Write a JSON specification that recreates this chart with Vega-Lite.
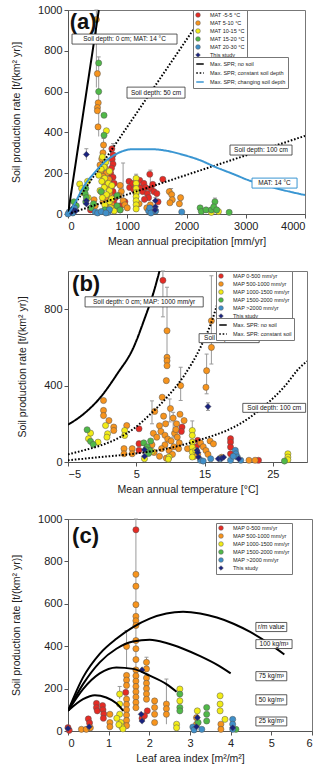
{
"$schema": "https://vega.github.io/schema/vega-lite/v6.json",
"autosize": {"type": "pad"},
"padding": {"left": 11, "top": 3, "right": 0, "bottom": 0},
"background": "white",
"spacing": 57,
"bounds": "flush",
"resolve": {"scale": {"color": "independent", "shape": "independent", "strokeDash": "independent", "x": "independent", "y": "independent"}, "legend": {"color": "independent", "shape": "independent", "strokeDash": "independent"}},
"config": {
  "font": "Liberation Sans",
  "view": {"stroke": "#777", "strokeWidth": 1},
  "axis": {"labelFont": "Liberation Sans", "labelFontSize": 11, "labelColor": "#222", "titleFont": "Liberation Sans", "titleFontSize": 10.5, "titleFontWeight": "normal", "titleColor": "#222", "domainColor": "#555", "tickColor": "#555", "tickSize": 4, "grid": false, "labelPadding": 2, "labelOverlap": false},
  "axisY": {"titlePadding": 16},
  "axisX": {"titlePadding": 5},
  "legend": {"padding": 2, "strokeColor": "#777", "fillColor": "white", "labelFontSize": 5.5, "labelFont": "Liberation Sans", "labelColor": "#222", "rowPadding": 0, "title": null}
},
"datasets": {
"pa": [
{"x":740,"y":320,"c":"MAT -5-5 °C"},{"x":760,"y":290,"c":"MAT -5-5 °C"},{"x":745,"y":268,"c":"MAT -5-5 °C"},{"x":760,"y":245,"c":"MAT -5-5 °C"},{"x":735,"y":225,"c":"MAT -5-5 °C"},{"x":720,"y":200,"c":"MAT -5-5 °C"},{"x":760,"y":180,"c":"MAT -5-5 °C"},{"x":700,"y":168,"c":"MAT -5-5 °C"},{"x":780,"y":150,"c":"MAT -5-5 °C"},{"x":730,"y":130,"c":"MAT -5-5 °C"},{"x":760,"y":110,"c":"MAT -5-5 °C"},{"x":690,"y":92,"c":"MAT -5-5 °C"},{"x":800,"y":80,"c":"MAT -5-5 °C"},{"x":770,"y":60,"c":"MAT -5-5 °C"},{"x":720,"y":45,"c":"MAT -5-5 °C"},{"x":880,"y":40,"c":"MAT -5-5 °C"},{"x":1030,"y":160,"c":"MAT -5-5 °C"},{"x":1040,"y":130,"c":"MAT -5-5 °C"},{"x":1090,"y":150,"c":"MAT -5-5 °C"},{"x":1110,"y":120,"c":"MAT -5-5 °C"},{"x":1150,"y":100,"c":"MAT -5-5 °C"},{"x":1170,"y":140,"c":"MAT -5-5 °C"},{"x":1210,"y":165,"c":"MAT -5-5 °C"},{"x":1230,"y":128,"c":"MAT -5-5 °C"},{"x":1260,"y":110,"c":"MAT -5-5 °C"},{"x":1280,"y":150,"c":"MAT -5-5 °C"},{"x":1310,"y":130,"c":"MAT -5-5 °C"},{"x":1340,"y":100,"c":"MAT -5-5 °C"},{"x":1380,"y":195,"c":"MAT -5-5 °C"},{"x":1400,"y":125,"c":"MAT -5-5 °C"},{"x":1430,"y":145,"c":"MAT -5-5 °C"},{"x":1450,"y":110,"c":"MAT -5-5 °C"},{"x":1500,"y":100,"c":"MAT -5-5 °C"},{"x":1600,"y":170,"c":"MAT -5-5 °C"},{"x":1360,"y":80,"c":"MAT -5-5 °C"},{"x":1290,"y":72,"c":"MAT -5-5 °C"},{"x":1520,"y":60,"c":"MAT -5-5 °C"},{"x":380,"y":20,"c":"MAT -5-5 °C"},{"x":960,"y":60,"c":"MAT -5-5 °C"},
{"x":479,"y":953,"c":"MAT 5-10 °C"},{"x":496,"y":688,"c":"MAT 5-10 °C"},{"x":510,"y":545,"c":"MAT 5-10 °C"},{"x":497,"y":522,"c":"MAT 5-10 °C"},{"x":496,"y":506,"c":"MAT 5-10 °C"},{"x":507,"y":427,"c":"MAT 5-10 °C"},{"x":600,"y":338,"c":"MAT 5-10 °C"},{"x":590,"y":300,"c":"MAT 5-10 °C"},{"x":570,"y":270,"c":"MAT 5-10 °C"},{"x":540,"y":240,"c":"MAT 5-10 °C"},{"x":620,"y":230,"c":"MAT 5-10 °C"},{"x":560,"y":210,"c":"MAT 5-10 °C"},{"x":650,"y":200,"c":"MAT 5-10 °C"},{"x":590,"y":185,"c":"MAT 5-10 °C"},{"x":690,"y":170,"c":"MAT 5-10 °C"},{"x":620,"y":150,"c":"MAT 5-10 °C"},{"x":670,"y":130,"c":"MAT 5-10 °C"},{"x":560,"y":110,"c":"MAT 5-10 °C"},{"x":700,"y":100,"c":"MAT 5-10 °C"},{"x":640,"y":80,"c":"MAT 5-10 °C"},{"x":590,"y":60,"c":"MAT 5-10 °C"},{"x":740,"y":45,"c":"MAT 5-10 °C"},{"x":800,"y":30,"c":"MAT 5-10 °C"},{"x":660,"y":30,"c":"MAT 5-10 °C"},{"x":880,"y":140,"c":"MAT 5-10 °C"},{"x":900,"y":110,"c":"MAT 5-10 °C"},{"x":860,"y":90,"c":"MAT 5-10 °C"},{"x":930,"y":65,"c":"MAT 5-10 °C"},{"x":960,"y":45,"c":"MAT 5-10 °C"},{"x":1000,"y":30,"c":"MAT 5-10 °C"},{"x":1200,"y":50,"c":"MAT 5-10 °C"},{"x":1330,"y":30,"c":"MAT 5-10 °C"},{"x":1390,"y":45,"c":"MAT 5-10 °C"},{"x":1710,"y":110,"c":"MAT 5-10 °C"},{"x":1750,"y":95,"c":"MAT 5-10 °C"},{"x":1760,"y":70,"c":"MAT 5-10 °C"},{"x":1720,"y":55,"c":"MAT 5-10 °C"},{"x":1900,"y":80,"c":"MAT 5-10 °C"},{"x":1880,"y":50,"c":"MAT 5-10 °C"},{"x":880,"y":20,"c":"MAT 5-10 °C"},{"x":440,"y":70,"c":"MAT 5-10 °C"},{"x":460,"y":40,"c":"MAT 5-10 °C"},
{"x":648,"y":408,"c":"MAT 10-15 °C"},{"x":580,"y":280,"c":"MAT 10-15 °C"},{"x":640,"y":255,"c":"MAT 10-15 °C"},{"x":610,"y":230,"c":"MAT 10-15 °C"},{"x":560,"y":220,"c":"MAT 10-15 °C"},{"x":700,"y":210,"c":"MAT 10-15 °C"},{"x":520,"y":190,"c":"MAT 10-15 °C"},{"x":620,"y":175,"c":"MAT 10-15 °C"},{"x":570,"y":160,"c":"MAT 10-15 °C"},{"x":680,"y":150,"c":"MAT 10-15 °C"},{"x":610,"y":130,"c":"MAT 10-15 °C"},{"x":540,"y":115,"c":"MAT 10-15 °C"},{"x":700,"y":115,"c":"MAT 10-15 °C"},{"x":650,"y":95,"c":"MAT 10-15 °C"},{"x":580,"y":80,"c":"MAT 10-15 °C"},{"x":700,"y":60,"c":"MAT 10-15 °C"},{"x":620,"y":45,"c":"MAT 10-15 °C"},{"x":720,"y":30,"c":"MAT 10-15 °C"},{"x":650,"y":15,"c":"MAT 10-15 °C"},{"x":197,"y":147,"c":"MAT 10-15 °C"},{"x":230,"y":125,"c":"MAT 10-15 °C"},{"x":250,"y":105,"c":"MAT 10-15 °C"},{"x":330,"y":160,"c":"MAT 10-15 °C"},{"x":340,"y":80,"c":"MAT 10-15 °C"},{"x":1150,"y":175,"c":"MAT 10-15 °C"},{"x":1150,"y":150,"c":"MAT 10-15 °C"},{"x":1150,"y":125,"c":"MAT 10-15 °C"},{"x":1150,"y":105,"c":"MAT 10-15 °C"},{"x":1150,"y":85,"c":"MAT 10-15 °C"},{"x":1150,"y":65,"c":"MAT 10-15 °C"},{"x":1150,"y":45,"c":"MAT 10-15 °C"},{"x":1150,"y":25,"c":"MAT 10-15 °C"},{"x":2420,"y":8,"c":"MAT 10-15 °C"},{"x":2540,"y":12,"c":"MAT 10-15 °C"},{"x":740,"y":140,"c":"MAT 10-15 °C"},{"x":740,"y":75,"c":"MAT 10-15 °C"},{"x":780,"y":15,"c":"MAT 10-15 °C"},
{"x":518,"y":740,"c":"MAT 15-20 °C"},{"x":518,"y":600,"c":"MAT 15-20 °C"},{"x":608,"y":484,"c":"MAT 15-20 °C"},{"x":608,"y":386,"c":"MAT 15-20 °C"},{"x":300,"y":125,"c":"MAT 15-20 °C"},{"x":290,"y":100,"c":"MAT 15-20 °C"},{"x":310,"y":80,"c":"MAT 15-20 °C"},{"x":300,"y":60,"c":"MAT 15-20 °C"},{"x":560,"y":110,"c":"MAT 15-20 °C"},{"x":390,"y":30,"c":"MAT 15-20 °C"},{"x":430,"y":50,"c":"MAT 15-20 °C"},{"x":830,"y":90,"c":"MAT 15-20 °C"},{"x":830,"y":40,"c":"MAT 15-20 °C"},{"x":880,"y":20,"c":"MAT 15-20 °C"},{"x":2230,"y":30,"c":"MAT 15-20 °C"},{"x":2250,"y":12,"c":"MAT 15-20 °C"},{"x":2330,"y":20,"c":"MAT 15-20 °C"},{"x":2420,"y":20,"c":"MAT 15-20 °C"},{"x":2480,"y":60,"c":"MAT 15-20 °C"},{"x":2460,"y":35,"c":"MAT 15-20 °C"},{"x":2510,"y":20,"c":"MAT 15-20 °C"},{"x":2720,"y":8,"c":"MAT 15-20 °C"},{"x":100,"y":60,"c":"MAT 15-20 °C"},{"x":140,"y":40,"c":"MAT 15-20 °C"},{"x":620,"y":20,"c":"MAT 15-20 °C"},
{"x":20,"y":10,"c":"MAT 20-30 °C"},{"x":50,"y":18,"c":"MAT 20-30 °C"},{"x":80,"y":5,"c":"MAT 20-30 °C"},{"x":110,"y":30,"c":"MAT 20-30 °C"},{"x":460,"y":10,"c":"MAT 20-30 °C"},{"x":500,"y":5,"c":"MAT 20-30 °C"},{"x":560,"y":12,"c":"MAT 20-30 °C"},{"x":680,"y":8,"c":"MAT 20-30 °C"},{"x":700,"y":22,"c":"MAT 20-30 °C"},{"x":640,"y":5,"c":"MAT 20-30 °C"},{"x":1360,"y":15,"c":"MAT 20-30 °C"},{"x":1380,"y":30,"c":"MAT 20-30 °C"},{"x":1400,"y":5,"c":"MAT 20-30 °C"},{"x":1480,"y":15,"c":"MAT 20-30 °C"},{"x":1920,"y":10,"c":"MAT 20-30 °C"},{"x":0,"y":0,"c":"MAT 20-30 °C"},
{"x":310,"y":292,"c":"This study"},{"x":310,"y":65,"c":"This study"},{"x":310,"y":50,"c":"This study"},{"x":1475,"y":65,"c":"This study"},{"x":1475,"y":35,"c":"This study"},{"x":1470,"y":20,"c":"This study"},{"x":75,"y":25,"c":"This study"},{"x":130,"y":15,"c":"This study"},{"x":50,"y":8,"c":"This study"}
],
"ea": [
{"x":479,"lo":620,"hi":1000},{"x":518,"lo":380,"hi":770},{"x":310,"lo":265,"hi":320},{"x":760,"lo":260,"hi":345},{"x":930,"lo":40,"hi":250},{"x":1740,"lo":60,"hi":125},{"x":2480,"lo":40,"hi":78},{"x":1150,"lo":160,"hi":195},{"x":1390,"lo":120,"hi":215},{"x":600,"lo":300,"hi":370},{"x":1475,"lo":20,"hi":80},{"x":310,"lo":40,"hi":80}
],
"la": [
{"x":0,"y":0,"c":"Max. SPR; no soil","k":"n"},{"x":520,"y":1000,"c":"Max. SPR; no soil","k":"n"},
{"x":0,"y":0,"c":"Max. SPR; constant soil depth","k":"d50"},{"x":2340,"y":1000,"c":"Max. SPR; constant soil depth","k":"d50"},
{"x":0,"y":0,"c":"Max. SPR; constant soil depth","k":"d100"},{"x":4000,"y":383,"c":"Max. SPR; constant soil depth","k":"d100"},
{"x":0,"y":0,"c":"Max. SPR; changing soil depth","k":"ch"},{"x":60,"y":25,"c":"Max. SPR; changing soil depth","k":"ch"},{"x":130,"y":60,"c":"Max. SPR; changing soil depth","k":"ch"},{"x":200,"y":100,"c":"Max. SPR; changing soil depth","k":"ch"},{"x":300,"y":150,"c":"Max. SPR; changing soil depth","k":"ch"},{"x":425,"y":195,"c":"Max. SPR; changing soil depth","k":"ch"},{"x":600,"y":250,"c":"Max. SPR; changing soil depth","k":"ch"},{"x":820,"y":295,"c":"Max. SPR; changing soil depth","k":"ch"},{"x":1100,"y":318,"c":"Max. SPR; changing soil depth","k":"ch"},{"x":1380,"y":318,"c":"Max. SPR; changing soil depth","k":"ch"},{"x":1662,"y":310,"c":"Max. SPR; changing soil depth","k":"ch"},{"x":1944,"y":290,"c":"Max. SPR; changing soil depth","k":"ch"},{"x":2225,"y":264,"c":"Max. SPR; changing soil depth","k":"ch"},{"x":2507,"y":228,"c":"Max. SPR; changing soil depth","k":"ch"},{"x":2789,"y":196,"c":"Max. SPR; changing soil depth","k":"ch"},{"x":3071,"y":163,"c":"Max. SPR; changing soil depth","k":"ch"},{"x":3352,"y":139,"c":"Max. SPR; changing soil depth","k":"ch"},{"x":3634,"y":117,"c":"Max. SPR; changing soil depth","k":"ch"},{"x":4000,"y":93,"c":"Max. SPR; changing soil depth","k":"ch"}
],
"aa": [
{"t":"Soil depth: 0 cm; MAT: 14 °C","x1":68,"x2":1840,"y1":833,"y2":882,"tx":954,"ty":857},
{"t":"Soil depth: 50 cm","x1":996,"x2":1975,"y1":568,"y2":622,"tx":1485,"ty":595},
{"t":"Soil depth: 100 cm","x1":2734,"x2":3781,"y1":289,"y2":338,"tx":3257,"ty":313},
{"t":"MAT: 14 °C","x1":3106,"x2":3866,"y1":127,"y2":176,"tx":3486,"ty":151}
],
"pb": [
{"x":8.9,"y":951,"c":"MAP 0-500 mm/yr"},{"x":5.4,"y":174,"c":"MAP 0-500 mm/yr"},{"x":5.4,"y":96,"c":"MAP 0-500 mm/yr"},{"x":5.4,"y":61,"c":"MAP 0-500 mm/yr"},{"x":11.7,"y":183,"c":"MAP 0-500 mm/yr"},{"x":11.6,"y":160,"c":"MAP 0-500 mm/yr"},{"x":14,"y":113,"c":"MAP 0-500 mm/yr"},{"x":14.3,"y":96,"c":"MAP 0-500 mm/yr"},{"x":18.8,"y":122,"c":"MAP 0-500 mm/yr"},{"x":18.8,"y":104,"c":"MAP 0-500 mm/yr"},{"x":18.8,"y":78,"c":"MAP 0-500 mm/yr"},{"x":18.8,"y":43,"c":"MAP 0-500 mm/yr"},{"x":22.9,"y":9,"c":"MAP 0-500 mm/yr"},{"x":13.8,"y":80,"c":"MAP 0-500 mm/yr"},
{"x":9.5,"y":687,"c":"MAP 500-1000 mm/yr"},{"x":9.5,"y":548,"c":"MAP 500-1000 mm/yr"},{"x":9.5,"y":530,"c":"MAP 500-1000 mm/yr"},{"x":9.5,"y":504,"c":"MAP 500-1000 mm/yr"},{"x":9.4,"y":426,"c":"MAP 500-1000 mm/yr"},{"x":8.8,"y":339,"c":"MAP 500-1000 mm/yr"},{"x":11.5,"y":400,"c":"MAP 500-1000 mm/yr"},{"x":16,"y":739,"c":"MAP 500-1000 mm/yr"},{"x":16,"y":600,"c":"MAP 500-1000 mm/yr"},{"x":15.3,"y":478,"c":"MAP 500-1000 mm/yr"},{"x":15.2,"y":391,"c":"MAP 500-1000 mm/yr"},{"x":0.2,"y":322,"c":"MAP 500-1000 mm/yr"},{"x":0.2,"y":270,"c":"MAP 500-1000 mm/yr"},{"x":0.2,"y":243,"c":"MAP 500-1000 mm/yr"},{"x":1,"y":217,"c":"MAP 500-1000 mm/yr"},{"x":1.7,"y":183,"c":"MAP 500-1000 mm/yr"},{"x":1.7,"y":165,"c":"MAP 500-1000 mm/yr"},{"x":3.6,"y":191,"c":"MAP 500-1000 mm/yr"},{"x":3.2,"y":70,"c":"MAP 500-1000 mm/yr"},{"x":3.2,"y":43,"c":"MAP 500-1000 mm/yr"},{"x":4.4,"y":70,"c":"MAP 500-1000 mm/yr"},{"x":4.4,"y":43,"c":"MAP 500-1000 mm/yr"},{"x":7.7,"y":265,"c":"MAP 500-1000 mm/yr"},{"x":8.4,"y":190,"c":"MAP 500-1000 mm/yr"},{"x":9,"y":240,"c":"MAP 500-1000 mm/yr"},{"x":9.3,"y":200,"c":"MAP 500-1000 mm/yr"},{"x":10,"y":280,"c":"MAP 500-1000 mm/yr"},{"x":10.4,"y":230,"c":"MAP 500-1000 mm/yr"},{"x":10.9,"y":200,"c":"MAP 500-1000 mm/yr"},{"x":11.4,"y":250,"c":"MAP 500-1000 mm/yr"},{"x":12,"y":217,"c":"MAP 500-1000 mm/yr"},{"x":7.5,"y":150,"c":"MAP 500-1000 mm/yr"},{"x":8,"y":130,"c":"MAP 500-1000 mm/yr"},{"x":8.6,"y":160,"c":"MAP 500-1000 mm/yr"},{"x":9.2,"y":140,"c":"MAP 500-1000 mm/yr"},{"x":9.6,"y":120,"c":"MAP 500-1000 mm/yr"},{"x":10.1,"y":110,"c":"MAP 500-1000 mm/yr"},{"x":10.6,"y":150,"c":"MAP 500-1000 mm/yr"},{"x":11,"y":130,"c":"MAP 500-1000 mm/yr"},{"x":11.3,"y":100,"c":"MAP 500-1000 mm/yr"},{"x":9.2,"y":90,"c":"MAP 500-1000 mm/yr"},{"x":8.7,"y":70,"c":"MAP 500-1000 mm/yr"},{"x":9.8,"y":60,"c":"MAP 500-1000 mm/yr"},{"x":10.5,"y":80,"c":"MAP 500-1000 mm/yr"},{"x":11.2,"y":70,"c":"MAP 500-1000 mm/yr"},{"x":10.3,"y":40,"c":"MAP 500-1000 mm/yr"},{"x":8.4,"y":30,"c":"MAP 500-1000 mm/yr"},{"x":9.4,"y":20,"c":"MAP 500-1000 mm/yr"},{"x":7.6,"y":50,"c":"MAP 500-1000 mm/yr"},{"x":14.4,"y":100,"c":"MAP 500-1000 mm/yr"},{"x":14.8,"y":80,"c":"MAP 500-1000 mm/yr"},{"x":15.2,"y":60,"c":"MAP 500-1000 mm/yr"},{"x":15.5,"y":40,"c":"MAP 500-1000 mm/yr"},{"x":15.8,"y":110,"c":"MAP 500-1000 mm/yr"},{"x":16.3,"y":95,"c":"MAP 500-1000 mm/yr"},{"x":14,"y":40,"c":"MAP 500-1000 mm/yr"},{"x":13.5,"y":30,"c":"MAP 500-1000 mm/yr"},{"x":21.5,"y":9,"c":"MAP 500-1000 mm/yr"},{"x":22.4,"y":9,"c":"MAP 500-1000 mm/yr"},{"x":17.5,"y":25,"c":"MAP 500-1000 mm/yr"},{"x":12.5,"y":70,"c":"MAP 500-1000 mm/yr"},{"x":10.8,"y":170,"c":"MAP 500-1000 mm/yr"},{"x":7.3,"y":90,"c":"MAP 500-1000 mm/yr"},
{"x":0.5,"y":191,"c":"MAP 1000-1500 mm/yr"},{"x":0.8,"y":148,"c":"MAP 1000-1500 mm/yr"},{"x":0.7,"y":130,"c":"MAP 1000-1500 mm/yr"},{"x":3.3,"y":165,"c":"MAP 1000-1500 mm/yr"},{"x":3.3,"y":139,"c":"MAP 1000-1500 mm/yr"},{"x":-1.7,"y":151,"c":"MAP 1000-1500 mm/yr"},{"x":-2,"y":122,"c":"MAP 1000-1500 mm/yr"},{"x":-0.6,"y":104,"c":"MAP 1000-1500 mm/yr"},{"x":7.3,"y":56,"c":"MAP 1000-1500 mm/yr"},{"x":9.8,"y":26,"c":"MAP 1000-1500 mm/yr"},{"x":6.2,"y":17,"c":"MAP 1000-1500 mm/yr"},{"x":13.2,"y":165,"c":"MAP 1000-1500 mm/yr"},{"x":13.2,"y":139,"c":"MAP 1000-1500 mm/yr"},{"x":13.2,"y":104,"c":"MAP 1000-1500 mm/yr"},{"x":13.2,"y":78,"c":"MAP 1000-1500 mm/yr"},{"x":13.2,"y":52,"c":"MAP 1000-1500 mm/yr"},{"x":13.2,"y":26,"c":"MAP 1000-1500 mm/yr"},{"x":27.2,"y":43,"c":"MAP 1000-1500 mm/yr"},{"x":27.2,"y":26,"c":"MAP 1000-1500 mm/yr"},{"x":27.2,"y":12,"c":"MAP 1000-1500 mm/yr"},{"x":9.7,"y":15,"c":"MAP 1000-1500 mm/yr"},{"x":13.7,"y":60,"c":"MAP 1000-1500 mm/yr"},
{"x":-2.2,"y":169,"c":"MAP 1500-2000 mm/yr"},{"x":-1.7,"y":108,"c":"MAP 1500-2000 mm/yr"},{"x":-1.3,"y":92,"c":"MAP 1500-2000 mm/yr"},{"x":6.1,"y":100,"c":"MAP 1500-2000 mm/yr"},{"x":6.6,"y":80,"c":"MAP 1500-2000 mm/yr"},{"x":7,"y":60,"c":"MAP 1500-2000 mm/yr"},{"x":6.8,"y":45,"c":"MAP 1500-2000 mm/yr"},{"x":7.1,"y":110,"c":"MAP 1500-2000 mm/yr"},{"x":6.4,"y":65,"c":"MAP 1500-2000 mm/yr"},{"x":26.7,"y":5,"c":"MAP 1500-2000 mm/yr"},
{"x":14.4,"y":9,"c":"MAP >2000 mm/yr"},{"x":15.9,"y":17,"c":"MAP >2000 mm/yr"},{"x":17.3,"y":17,"c":"MAP >2000 mm/yr"},{"x":19.5,"y":61,"c":"MAP >2000 mm/yr"},{"x":19.6,"y":43,"c":"MAP >2000 mm/yr"},{"x":19.8,"y":26,"c":"MAP >2000 mm/yr"},{"x":18.8,"y":9,"c":"MAP >2000 mm/yr"},{"x":20.3,"y":9,"c":"MAP >2000 mm/yr"},{"x":14.8,"y":5,"c":"MAP >2000 mm/yr"},{"x":19.2,"y":30,"c":"MAP >2000 mm/yr"},
{"x":15.5,"y":290,"c":"This study"},{"x":6.2,"y":64,"c":"This study"},{"x":6.2,"y":30,"c":"This study"},{"x":13.9,"y":61,"c":"This study"},{"x":14.1,"y":26,"c":"This study"},{"x":17,"y":17,"c":"This study"},{"x":17.5,"y":20,"c":"This study"},{"x":17.8,"y":25,"c":"This study"},{"x":20,"y":17,"c":"This study"},{"x":14,"y":50,"c":"This study"}
],
"eb": [
{"x":8.9,"lo":760,"hi":1000},{"x":9.5,"lo":560,"hi":915},{"x":16,"lo":513,"hi":975},{"x":15.3,"lo":357,"hi":565},{"x":11.5,"lo":322,"hi":496},{"x":7.3,"lo":200,"hi":320},{"x":13.2,"lo":170,"hi":215},{"x":15.5,"lo":270,"hi":310},{"x":9.9,"lo":210,"hi":330},{"x":10.4,"lo":130,"hi":260}
],
"lb": [
{"x":-5,"y":195,"c":"Max. SPR: no soil","k":"n"},{"x":-2.7,"y":252,"c":"Max. SPR: no soil","k":"n"},{"x":-0.24,"y":339,"c":"Max. SPR: no soil","k":"n"},{"x":2.2,"y":461,"c":"Max. SPR: no soil","k":"n"},{"x":4.6,"y":600,"c":"Max. SPR: no soil","k":"n"},{"x":6.1,"y":739,"c":"Max. SPR: no soil","k":"n"},{"x":7.6,"y":896,"c":"Max. SPR: no soil","k":"n"},{"x":8.4,"y":1000,"c":"Max. SPR: no soil","k":"n"},
{"x":-5,"y":40,"c":"Max. SPR: constant soil","k":"d50"},{"x":-2.7,"y":61,"c":"Max. SPR: constant soil","k":"d50"},{"x":-0.2,"y":87,"c":"Max. SPR: constant soil","k":"d50"},{"x":2.2,"y":122,"c":"Max. SPR: constant soil","k":"d50"},{"x":4.6,"y":174,"c":"Max. SPR: constant soil","k":"d50"},{"x":7.1,"y":252,"c":"Max. SPR: constant soil","k":"d50"},{"x":9.5,"y":339,"c":"Max. SPR: constant soil","k":"d50"},{"x":12,"y":452,"c":"Max. SPR: constant soil","k":"d50"},{"x":14.4,"y":600,"c":"Max. SPR: constant soil","k":"d50"},{"x":15.9,"y":722,"c":"Max. SPR: constant soil","k":"d50"},{"x":17.3,"y":878,"c":"Max. SPR: constant soil","k":"d50"},{"x":18.3,"y":1000,"c":"Max. SPR: constant soil","k":"d50"},
{"x":-5,"y":9,"c":"Max. SPR: constant soil","k":"d100"},{"x":-0.2,"y":26,"c":"Max. SPR: constant soil","k":"d100"},{"x":4.6,"y":43,"c":"Max. SPR: constant soil","k":"d100"},{"x":9.5,"y":70,"c":"Max. SPR: constant soil","k":"d100"},{"x":14.4,"y":117,"c":"Max. SPR: constant soil","k":"d100"},{"x":19.3,"y":183,"c":"Max. SPR: constant soil","k":"d100"},{"x":21.7,"y":235,"c":"Max. SPR: constant soil","k":"d100"},{"x":24.1,"y":304,"c":"Max. SPR: constant soil","k":"d100"},{"x":26.6,"y":391,"c":"Max. SPR: constant soil","k":"d100"},{"x":29,"y":496,"c":"Max. SPR: constant soil","k":"d100"},{"x":30,"y":527,"c":"Max. SPR: constant soil","k":"d100"}
],
"ab": [
{"t":"Soil depth: 0 cm; MAP: 1000 mm/yr","x1":-2.5,"x2":14.8,"y1":812,"y2":865,"tx":6.15,"ty":838},
{"t":"Soil depth: 50 cm","x1":14.2,"x2":23.0,"y1":625,"y2":672,"tx":18.6,"ty":648},
{"t":"Soil depth: 100 cm","x1":20.6,"x2":29.8,"y1":260,"y2":307,"tx":25.2,"ty":283}
],
"pc": [
{"x":1.67,"y":949,"c":"MAP 0-500 mm/yr"},{"x":0,"y":16,"c":"MAP 0-500 mm/yr"},{"x":0.03,"y":3,"c":"MAP 0-500 mm/yr"},{"x":0.5,"y":57,"c":"MAP 0-500 mm/yr"},{"x":0.53,"y":38,"c":"MAP 0-500 mm/yr"},{"x":0.7,"y":130,"c":"MAP 0-500 mm/yr"},{"x":0.7,"y":110,"c":"MAP 0-500 mm/yr"},{"x":0.72,"y":95,"c":"MAP 0-500 mm/yr"},{"x":0.85,"y":120,"c":"MAP 0-500 mm/yr"},{"x":0.86,"y":100,"c":"MAP 0-500 mm/yr"},{"x":0.88,"y":80,"c":"MAP 0-500 mm/yr"},{"x":0.87,"y":60,"c":"MAP 0-500 mm/yr"},{"x":1.42,"y":182,"c":"MAP 0-500 mm/yr"},{"x":1.95,"y":95,"c":"MAP 0-500 mm/yr"},{"x":1.82,"y":60,"c":"MAP 0-500 mm/yr"},{"x":1.88,"y":72,"c":"MAP 0-500 mm/yr"},
{"x":1.67,"y":739,"c":"MAP 500-1000 mm/yr"},{"x":1.67,"y":683,"c":"MAP 500-1000 mm/yr"},{"x":1.67,"y":596,"c":"MAP 500-1000 mm/yr"},{"x":1.67,"y":541,"c":"MAP 500-1000 mm/yr"},{"x":1.67,"y":520,"c":"MAP 500-1000 mm/yr"},{"x":1.67,"y":498,"c":"MAP 500-1000 mm/yr"},{"x":1.67,"y":427,"c":"MAP 500-1000 mm/yr"},{"x":1.67,"y":388,"c":"MAP 500-1000 mm/yr"},{"x":1.67,"y":337,"c":"MAP 500-1000 mm/yr"},{"x":1.67,"y":288,"c":"MAP 500-1000 mm/yr"},{"x":1.67,"y":260,"c":"MAP 500-1000 mm/yr"},{"x":1.67,"y":235,"c":"MAP 500-1000 mm/yr"},{"x":1.67,"y":210,"c":"MAP 500-1000 mm/yr"},{"x":1.67,"y":185,"c":"MAP 500-1000 mm/yr"},{"x":1.67,"y":160,"c":"MAP 500-1000 mm/yr"},{"x":1.67,"y":135,"c":"MAP 500-1000 mm/yr"},{"x":1.67,"y":110,"c":"MAP 500-1000 mm/yr"},{"x":1.44,"y":399,"c":"MAP 500-1000 mm/yr"},{"x":1.44,"y":262,"c":"MAP 500-1000 mm/yr"},{"x":1.44,"y":240,"c":"MAP 500-1000 mm/yr"},{"x":1.44,"y":215,"c":"MAP 500-1000 mm/yr"},{"x":1.44,"y":150,"c":"MAP 500-1000 mm/yr"},{"x":1.44,"y":125,"c":"MAP 500-1000 mm/yr"},{"x":1.44,"y":100,"c":"MAP 500-1000 mm/yr"},{"x":1.44,"y":75,"c":"MAP 500-1000 mm/yr"},{"x":1.44,"y":50,"c":"MAP 500-1000 mm/yr"},{"x":1.44,"y":25,"c":"MAP 500-1000 mm/yr"},{"x":1.93,"y":324,"c":"MAP 500-1000 mm/yr"},{"x":1.93,"y":293,"c":"MAP 500-1000 mm/yr"},{"x":1.93,"y":250,"c":"MAP 500-1000 mm/yr"},{"x":1.93,"y":225,"c":"MAP 500-1000 mm/yr"},{"x":1.93,"y":200,"c":"MAP 500-1000 mm/yr"},{"x":1.93,"y":175,"c":"MAP 500-1000 mm/yr"},{"x":1.93,"y":150,"c":"MAP 500-1000 mm/yr"},{"x":2.13,"y":142,"c":"MAP 500-1000 mm/yr"},{"x":2.13,"y":111,"c":"MAP 500-1000 mm/yr"},{"x":2.13,"y":79,"c":"MAP 500-1000 mm/yr"},{"x":2.13,"y":40,"c":"MAP 500-1000 mm/yr"},{"x":2.42,"y":127,"c":"MAP 500-1000 mm/yr"},{"x":2.42,"y":105,"c":"MAP 500-1000 mm/yr"},{"x":2.42,"y":79,"c":"MAP 500-1000 mm/yr"},{"x":0.33,"y":8,"c":"MAP 500-1000 mm/yr"},{"x":0.45,"y":8,"c":"MAP 500-1000 mm/yr"},{"x":1.03,"y":79,"c":"MAP 500-1000 mm/yr"},{"x":1.03,"y":40,"c":"MAP 500-1000 mm/yr"},{"x":1.03,"y":20,"c":"MAP 500-1000 mm/yr"},{"x":3.16,"y":63,"c":"MAP 500-1000 mm/yr"},{"x":3.16,"y":32,"c":"MAP 500-1000 mm/yr"},{"x":3.76,"y":32,"c":"MAP 500-1000 mm/yr"},{"x":3.76,"y":8,"c":"MAP 500-1000 mm/yr"},{"x":0.55,"y":15,"c":"MAP 500-1000 mm/yr"},
{"x":1.27,"y":174,"c":"MAP 1000-1500 mm/yr"},{"x":1.27,"y":127,"c":"MAP 1000-1500 mm/yr"},{"x":1.27,"y":79,"c":"MAP 1000-1500 mm/yr"},{"x":1.3,"y":40,"c":"MAP 1000-1500 mm/yr"},{"x":1.32,"y":20,"c":"MAP 1000-1500 mm/yr"},{"x":1.35,"y":10,"c":"MAP 1000-1500 mm/yr"},{"x":1.25,"y":30,"c":"MAP 1000-1500 mm/yr"},{"x":2.67,"y":32,"c":"MAP 1000-1500 mm/yr"},{"x":2.67,"y":15,"c":"MAP 1000-1500 mm/yr"},{"x":2.75,"y":198,"c":"MAP 1000-1500 mm/yr"},{"x":2.75,"y":142,"c":"MAP 1000-1500 mm/yr"},{"x":3.18,"y":95,"c":"MAP 1000-1500 mm/yr"},{"x":3.74,"y":166,"c":"MAP 1000-1500 mm/yr"},{"x":3.74,"y":127,"c":"MAP 1000-1500 mm/yr"},{"x":3.74,"y":95,"c":"MAP 1000-1500 mm/yr"},{"x":3.86,"y":55,"c":"MAP 1000-1500 mm/yr"},{"x":1.2,"y":60,"c":"MAP 1000-1500 mm/yr"},
{"x":2.75,"y":174,"c":"MAP 1500-2000 mm/yr"},{"x":2.75,"y":111,"c":"MAP 1500-2000 mm/yr"},{"x":2.75,"y":95,"c":"MAP 1500-2000 mm/yr"},{"x":3.41,"y":111,"c":"MAP 1500-2000 mm/yr"},{"x":3.41,"y":79,"c":"MAP 1500-2000 mm/yr"},{"x":3.41,"y":47,"c":"MAP 1500-2000 mm/yr"},{"x":4.13,"y":8,"c":"MAP 1500-2000 mm/yr"},{"x":3.2,"y":40,"c":"MAP 1500-2000 mm/yr"},
{"x":3.07,"y":19,"c":"MAP >2000 mm/yr"},{"x":3.29,"y":8,"c":"MAP >2000 mm/yr"},{"x":4.05,"y":55,"c":"MAP >2000 mm/yr"},{"x":4.05,"y":32,"c":"MAP >2000 mm/yr"},{"x":4.05,"y":8,"c":"MAP >2000 mm/yr"},{"x":3.1,"y":5,"c":"MAP >2000 mm/yr"},
{"x":0,"y":12,"c":"This study"},{"x":0.52,"y":20,"c":"This study"},{"x":1.82,"y":288,"c":"This study"},{"x":1.8,"y":79,"c":"This study"},{"x":1.82,"y":47,"c":"This study"},{"x":3.18,"y":63,"c":"This study"},{"x":3.16,"y":20,"c":"This study"},{"x":4.05,"y":15,"c":"This study"}
],
"ec": [
{"x":1.67,"lo":280,"hi":1000},{"x":1.44,"lo":293,"hi":474},{"x":2.42,"lo":32,"hi":245},{"x":1.93,"lo":316,"hi":348},{"x":1.27,"lo":150,"hi":210},{"x":0.52,"lo":5,"hi":40}
],
"lc": [
{"x":0,"y":95,"k":"c100"},{"x":0.37,"y":253,"k":"c100"},{"x":0.78,"y":364,"k":"c100"},{"x":1.19,"y":435,"k":"c100"},{"x":1.6,"y":490,"k":"c100"},{"x":2.01,"y":530,"k":"c100"},{"x":2.42,"y":554,"k":"c100"},{"x":2.83,"y":562,"k":"c100"},{"x":3.25,"y":554,"k":"c100"},{"x":3.66,"y":535,"k":"c100"},{"x":4.07,"y":506,"k":"c100"},{"x":4.48,"y":467,"k":"c100"},{"x":4.89,"y":419,"k":"c100"},{"x":5.32,"y":361,"k":"c100"},
{"x":0,"y":95,"k":"c75"},{"x":0.37,"y":221,"k":"c75"},{"x":0.78,"y":324,"k":"c75"},{"x":1.19,"y":388,"k":"c75"},{"x":1.6,"y":422,"k":"c75"},{"x":2.01,"y":430,"k":"c75"},{"x":2.42,"y":415,"k":"c75"},{"x":2.83,"y":388,"k":"c75"},{"x":3.25,"y":353,"k":"c75"},{"x":3.66,"y":313,"k":"c75"},{"x":4.0,"y":272,"k":"c75"},
{"x":0,"y":95,"k":"c50"},{"x":0.37,"y":198,"k":"c50"},{"x":0.78,"y":272,"k":"c50"},{"x":1.19,"y":300,"k":"c50"},{"x":1.6,"y":293,"k":"c50"},{"x":2.01,"y":261,"k":"c50"},{"x":2.42,"y":221,"k":"c50"},{"x":2.67,"y":185,"k":"c50"},
{"x":0,"y":95,"k":"c25"},{"x":0.37,"y":150,"k":"c25"},{"x":0.66,"y":169,"k":"c25"},{"x":0.94,"y":158,"k":"c25"},{"x":1.19,"y":131,"k":"c25"},{"x":1.36,"y":95,"k":"c25"}
],
"ac": [
{"t":"r/m value","x1":4.62,"x2":5.38,"y1":469,"y2":512,"tx":5.0,"ty":490},
{"t":"100 kg/m³","x1":4.62,"x2":5.51,"y1":389,"y2":431,"tx":5.065,"ty":410},
{"t":"75 kg/m³","x1":4.62,"x2":5.38,"y1":237,"y2":280,"tx":5.0,"ty":258},
{"t":"50 kg/m³","x1":4.62,"x2":5.38,"y1":123,"y2":171,"tx":5.0,"ty":147},
{"t":"25 kg/m³","x1":4.62,"x2":5.38,"y1":24,"y2":66,"tx":5.0,"ty":45}
],
"tags": [
{"p":"a","t":"(a)","x":30,"y":905},
{"p":"b","t":"(b)","x":-4.4,"y":895},
{"p":"c","t":"(c)","x":0.1,"y":886}
]
},
"vconcat": [
{
"width": 237, "height": 204,
"resolve": {"scale": {"color": "independent", "shape": "independent", "strokeDash": "independent"}, "legend": {"color": "independent", "shape": "independent", "strokeDash": "independent"}},
"layer": [
{"data": {"name": "ea"}, "mark": {"type": "rule", "color": "#9a9a9a", "strokeWidth": 1},
 "encoding": {
  "x": {"field": "x", "type": "quantitative", "scale": {"domain": [0, 4000], "nice": false}, "axis": {"title": "Mean annual precipitation [mm/yr]", "values": [0,1000,2000,3000,4000], "format": "d"}},
  "y": {"field": "lo", "type": "quantitative", "scale": {"domain": [0, 1000], "nice": false}, "axis": {"title": "Soil production rate [t/(km² yr)]", "labelOverlap": false, "values": [0,100,200,300,400,500,600,700,800,900,1000], "format": "d", "labelExpr": "datum.value % 200 === 0 ? datum.label : ''"}},
  "y2": {"field": "hi"}}},
{"data": {"name": "ea"}, "mark": {"type": "point", "shape": "stroke", "size": 16, "filled": false, "color": "#9a9a9a", "strokeWidth": 1, "opacity": 1},
 "encoding": {"x": {"field": "x", "type": "quantitative"}, "y": {"field": "hi", "type": "quantitative"}}},
{"data": {"name": "pa"}, "mark": {"type": "point", "filled": true, "size": 38, "stroke": "#555", "strokeWidth": 0.5, "opacity": 1},
 "encoding": {
  "x": {"field": "x", "type": "quantitative"},
  "y": {"field": "y", "type": "quantitative"},
  "color": {"field": "c", "type": "nominal", "scale": {"domain": ["MAT -5-5 °C","MAT 5-10 °C","MAT 10-15 °C","MAT 15-20 °C","MAT 20-30 °C","This study"], "range": ["#e52b24","#f7941d","#f2ec17","#50b848","#3f8fc9","#1a237e"]}, "legend": {"title": null, "orient": "none", "legendX": 125, "legendY": 0, "symbolSize": 22, "symbolStrokeColor": "#555", "symbolStrokeWidth": 0.5, "labelOffset": 9}},
  "shape": {"field": "c", "type": "nominal", "scale": {"domain": ["MAT -5-5 °C","MAT 5-10 °C","MAT 10-15 °C","MAT 15-20 °C","MAT 20-30 °C","This study"], "range": ["circle","circle","circle","circle","circle","diamond"]}, "legend": {"title": null, "orient": "none", "legendX": 125, "legendY": 0, "symbolSize": 22, "symbolStrokeColor": "#555", "symbolStrokeWidth": 0.5, "labelOffset": 9}}}},
{"data": {"name": "la"}, "mark": {"type": "line", "strokeWidth": 2, "clip": true, "interpolate": "monotone"},
 "encoding": {
  "x": {"field": "x", "type": "quantitative"},
  "y": {"field": "y", "type": "quantitative"},
  "color": {"field": "c", "type": "nominal", "scale": {"domain": ["Max. SPR; no soil","Max. SPR; constant soil depth","Max. SPR; changing soil depth"], "range": ["#000000","#000000","#3a96d2"]}, "legend": {"title": null, "orient": "none", "legendX": 125, "legendY": 47, "symbolSize": 56, "symbolStrokeWidth": 1.6, "labelOffset": 5}},
  "strokeDash": {"field": "c", "type": "nominal", "scale": {"domain": ["Max. SPR; no soil","Max. SPR; constant soil depth","Max. SPR; changing soil depth"], "range": [[1,0],[1.6,1.8],[1,0]]}, "legend": {"title": null, "orient": "none", "legendX": 125, "legendY": 47, "symbolSize": 56, "symbolStrokeWidth": 1.6, "labelOffset": 5}},
  "detail": {"field": "k"}}},
{"data": {"name": "aa"}, "transform": [{"filter": "datum.t !== 'MAT: 14 °C'"}], "mark": {"type": "rect", "fill": "white", "stroke": "#333", "strokeWidth": 0.8},
 "encoding": {"x": {"field": "x1", "type": "quantitative"}, "x2": {"field": "x2"}, "y": {"field": "y1", "type": "quantitative"}, "y2": {"field": "y2"}}},
{"data": {"name": "aa"}, "transform": [{"filter": "datum.t === 'MAT: 14 °C'"}], "mark": {"type": "rect", "fill": "white", "stroke": "#3a96d2", "strokeWidth": 1},
 "encoding": {"x": {"field": "x1", "type": "quantitative"}, "x2": {"field": "x2"}, "y": {"field": "y1", "type": "quantitative"}, "y2": {"field": "y2"}}},
{"data": {"name": "aa"}, "mark": {"type": "text", "fontSize": 6.5, "align": "center", "baseline": "middle", "color": "#111"},
 "encoding": {"x": {"field": "tx", "type": "quantitative"}, "y": {"field": "ty", "type": "quantitative"}, "text": {"field": "t"}}},
{"data": {"name": "tags"}, "transform": [{"filter": "datum.p === 'a'"}], "mark": {"type": "text", "fontSize": 22, "fontWeight": "bold", "align": "left", "baseline": "alphabetic", "color": "#111"},
 "encoding": {"x": {"field": "x", "type": "quantitative"}, "y": {"field": "y", "type": "quantitative"}, "text": {"field": "t"}}}
]
},
{
"width": 239, "height": 191,
"resolve": {"scale": {"color": "independent", "shape": "independent", "strokeDash": "independent"}, "legend": {"color": "independent", "shape": "independent", "strokeDash": "independent"}},
"layer": [
{"data": {"name": "eb"}, "mark": {"type": "rule", "color": "#9a9a9a", "strokeWidth": 1},
 "encoding": {
  "x": {"field": "x", "type": "quantitative", "scale": {"domain": [-5, 30], "nice": false}, "axis": {"title": "Mean annual temperature [°C]", "values": [-5,0,5,10,15,20,25,30], "format": "d"}},
  "y": {"field": "lo", "type": "quantitative", "scale": {"domain": [0, 1000], "nice": false}, "axis": {"title": "Soil production rate [t/(km² yr)]", "labelOverlap": false, "values": [0,100,200,300,400,500,600,700,800,900,1000], "format": "d", "labelExpr": "datum.value % 200 === 0 ? datum.label : ''"}},
  "y2": {"field": "hi"}}},
{"data": {"name": "eb"}, "mark": {"type": "point", "shape": "stroke", "size": 16, "filled": false, "color": "#9a9a9a", "strokeWidth": 1, "opacity": 1},
 "encoding": {"x": {"field": "x", "type": "quantitative"}, "y": {"field": "hi", "type": "quantitative"}}},
{"data": {"name": "eb"}, "mark": {"type": "point", "shape": "stroke", "size": 16, "filled": false, "color": "#9a9a9a", "strokeWidth": 1, "opacity": 1},
 "encoding": {"x": {"field": "x", "type": "quantitative"}, "y": {"field": "lo", "type": "quantitative"}}},
{"data": {"name": "pb"}, "mark": {"type": "point", "filled": true, "size": 38, "stroke": "#555", "strokeWidth": 0.5, "opacity": 1},
 "encoding": {
  "x": {"field": "x", "type": "quantitative"},
  "y": {"field": "y", "type": "quantitative"},
  "color": {"field": "c", "type": "nominal", "scale": {"domain": ["MAP 0-500 mm/yr","MAP 500-1000 mm/yr","MAP 1000-1500 mm/yr","MAP 1500-2000 mm/yr","MAP >2000 mm/yr","This study"], "range": ["#e52b24","#f7941d","#f2ec17","#50b848","#3f8fc9","#1a237e"]}, "legend": {"title": null, "orient": "none", "legendX": 148, "legendY": 0, "symbolSize": 22, "symbolStrokeColor": "#555", "symbolStrokeWidth": 0.5, "labelOffset": 9}},
  "shape": {"field": "c", "type": "nominal", "scale": {"domain": ["MAP 0-500 mm/yr","MAP 500-1000 mm/yr","MAP 1000-1500 mm/yr","MAP 1500-2000 mm/yr","MAP >2000 mm/yr","This study"], "range": ["circle","circle","circle","circle","circle","diamond"]}, "legend": {"title": null, "orient": "none", "legendX": 148, "legendY": 0, "symbolSize": 22, "symbolStrokeColor": "#555", "symbolStrokeWidth": 0.5, "labelOffset": 9}}}},
{"data": {"name": "lb"}, "mark": {"type": "line", "strokeWidth": 2, "clip": true, "interpolate": "monotone"},
 "encoding": {
  "x": {"field": "x", "type": "quantitative"},
  "y": {"field": "y", "type": "quantitative"},
  "color": {"field": "c", "type": "nominal", "scale": {"domain": ["Max. SPR: no soil","Max. SPR: constant soil"], "range": ["#000000","#000000"]}, "legend": {"title": null, "orient": "none", "legendX": 148, "legendY": 47, "symbolSize": 56, "symbolStrokeWidth": 1.6, "labelOffset": 5}},
  "strokeDash": {"field": "c", "type": "nominal", "scale": {"domain": ["Max. SPR: no soil","Max. SPR: constant soil"], "range": [[1,0],[1.6,1.8]]}, "legend": {"title": null, "orient": "none", "legendX": 148, "legendY": 47, "symbolSize": 56, "symbolStrokeWidth": 1.6, "labelOffset": 5}},
  "detail": {"field": "k"}}},
{"data": {"name": "ab"}, "mark": {"type": "rect", "fill": "white", "stroke": "#333", "strokeWidth": 0.8},
 "encoding": {"x": {"field": "x1", "type": "quantitative"}, "x2": {"field": "x2"}, "y": {"field": "y1", "type": "quantitative"}, "y2": {"field": "y2"}}},
{"data": {"name": "ab"}, "mark": {"type": "text", "fontSize": 6.5, "align": "center", "baseline": "middle", "color": "#111"},
 "encoding": {"x": {"field": "tx", "type": "quantitative"}, "y": {"field": "ty", "type": "quantitative"}, "text": {"field": "t"}}},
{"data": {"name": "tags"}, "transform": [{"filter": "datum.p === 'b'"}], "mark": {"type": "text", "fontSize": 22, "fontWeight": "bold", "align": "left", "baseline": "alphabetic", "color": "#111"},
 "encoding": {"x": {"field": "x", "type": "quantitative"}, "y": {"field": "y", "type": "quantitative"}, "text": {"field": "t"}}}
]
},
{
"width": 244, "height": 212,
"resolve": {"scale": {"color": "independent", "shape": "independent"}, "legend": {"color": "independent", "shape": "independent"}},
"layer": [
{"data": {"name": "ec"}, "mark": {"type": "rule", "color": "#9a9a9a", "strokeWidth": 1},
 "encoding": {
  "x": {"field": "x", "type": "quantitative", "scale": {"domain": [0, 6], "nice": false}, "axis": {"title": "Leaf area index [m²/m²]", "values": [0,1,2,3,4,5,6], "format": "d"}},
  "y": {"field": "lo", "type": "quantitative", "scale": {"domain": [0, 1000], "nice": false}, "axis": {"title": "Soil production rate [t/(km² yr)]", "labelOverlap": false, "values": [0,100,200,300,400,500,600,700,800,900,1000], "format": "d", "labelExpr": "datum.value % 200 === 0 ? datum.label : ''"}},
  "y2": {"field": "hi"}}},
{"data": {"name": "ec"}, "mark": {"type": "point", "shape": "stroke", "size": 16, "filled": false, "color": "#9a9a9a", "strokeWidth": 1, "opacity": 1},
 "encoding": {"x": {"field": "x", "type": "quantitative"}, "y": {"field": "hi", "type": "quantitative"}}},
{"data": {"name": "pc"}, "mark": {"type": "point", "filled": true, "size": 38, "stroke": "#555", "strokeWidth": 0.5, "opacity": 1},
 "encoding": {
  "x": {"field": "x", "type": "quantitative"},
  "y": {"field": "y", "type": "quantitative"},
  "color": {"field": "c", "type": "nominal", "scale": {"domain": ["MAP 0-500 mm/yr","MAP 500-1000 mm/yr","MAP 1000-1500 mm/yr","MAP 1500-2000 mm/yr","MAP >2000 mm/yr","This study"], "range": ["#e52b24","#f7941d","#f2ec17","#50b848","#3f8fc9","#1a237e"]}, "legend": {"title": null, "orient": "none", "legendX": 148, "legendY": 4, "symbolSize": 22, "symbolStrokeColor": "#555", "symbolStrokeWidth": 0.5, "labelOffset": 9}},
  "shape": {"field": "c", "type": "nominal", "scale": {"domain": ["MAP 0-500 mm/yr","MAP 500-1000 mm/yr","MAP 1000-1500 mm/yr","MAP 1500-2000 mm/yr","MAP >2000 mm/yr","This study"], "range": ["circle","circle","circle","circle","circle","diamond"]}, "legend": {"title": null, "orient": "none", "legendX": 148, "legendY": 4, "symbolSize": 22, "symbolStrokeColor": "#555", "symbolStrokeWidth": 0.5, "labelOffset": 9}}}},
{"data": {"name": "lc"}, "mark": {"type": "line", "strokeWidth": 2, "color": "#000", "clip": true, "interpolate": "monotone"},
 "encoding": {"x": {"field": "x", "type": "quantitative"}, "y": {"field": "y", "type": "quantitative"}, "detail": {"field": "k"}}},
{"data": {"name": "ac"}, "mark": {"type": "rect", "fill": "white", "stroke": "#333", "strokeWidth": 0.8},
 "encoding": {"x": {"field": "x1", "type": "quantitative"}, "x2": {"field": "x2"}, "y": {"field": "y1", "type": "quantitative"}, "y2": {"field": "y2"}}},
{"data": {"name": "ac"}, "mark": {"type": "text", "fontSize": 6.5, "align": "center", "baseline": "middle", "color": "#111"},
 "encoding": {"x": {"field": "tx", "type": "quantitative"}, "y": {"field": "ty", "type": "quantitative"}, "text": {"field": "t"}}},
{"data": {"name": "tags"}, "transform": [{"filter": "datum.p === 'c'"}], "mark": {"type": "text", "fontSize": 22, "fontWeight": "bold", "align": "left", "baseline": "alphabetic", "color": "#111"},
 "encoding": {"x": {"field": "x", "type": "quantitative"}, "y": {"field": "y", "type": "quantitative"}, "text": {"field": "t"}}}
]
}
]
}
